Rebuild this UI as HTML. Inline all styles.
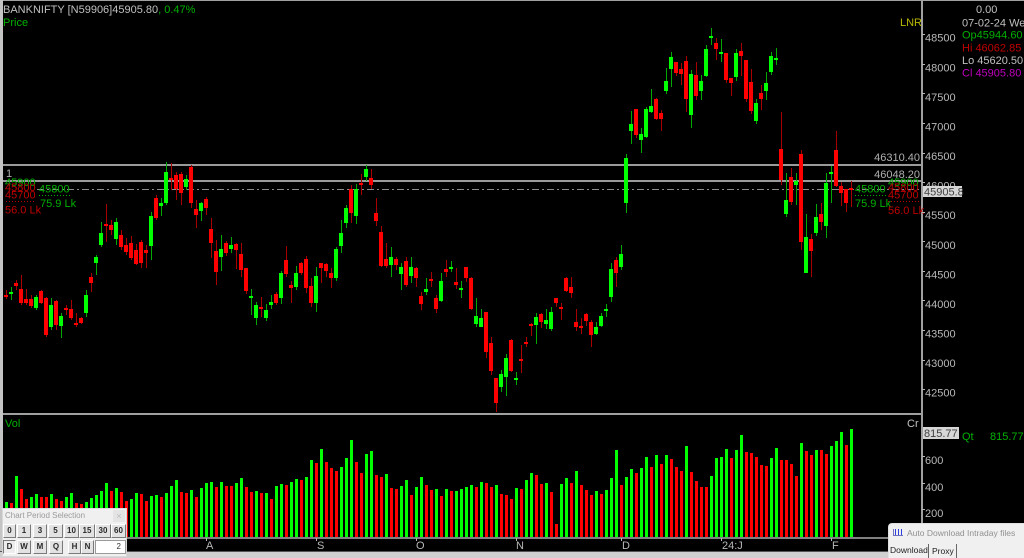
<!DOCTYPE html>
<html><head><meta charset="utf-8">
<style>
html,body{margin:0;padding:0;background:#000;width:1024px;height:558px;overflow:hidden;}
#w{position:relative;width:1024px;height:558px;overflow:hidden;}
svg{position:absolute;left:0;top:0;}
text{font-family:"Liberation Sans",sans-serif;}
.btn{position:absolute;height:14px;background:#e2e2e2;border-top:1px solid #fff;border-left:1px solid #fff;border-right:1px solid #7a7a7a;border-bottom:1px solid #7a7a7a;font:bold 8px "Liberation Sans",sans-serif;color:#2a2a2a;text-align:center;line-height:12px;box-sizing:border-box;}
.dn{border-top:1px solid #7a7a7a;border-left:1px solid #7a7a7a;border-right:1px solid #fff;border-bottom:1px solid #fff;background:#ececec;}
</style></head>
<body><div id="w">
<svg id="s" width="1024" height="558" xmlns="http://www.w3.org/2000/svg">
<rect width="1024" height="558" fill="#000"/>
<g shape-rendering="crispEdges">
<rect x="0" y="0" width="1024" height="1" fill="#a0a0a0"/>
<rect x="0" y="0" width="3" height="558" fill="#c4c4c4"/>
<rect x="921" y="0" width="2" height="552" fill="#a0a0a0"/>
<rect x="3" y="164" width="918" height="2" fill="#9a9a9a"/>
<rect x="3" y="180" width="918" height="2" fill="#9a9a9a"/>
<rect x="3" y="413" width="918" height="2" fill="#a0a0a0"/>
</g>
<line x1="37" y1="189.5" x2="921" y2="189.5" stroke="#8c8c8c" stroke-width="1" stroke-dasharray="7 3 2 3" shape-rendering="crispEdges"/>
<g id="cg" shape-rendering="crispEdges"></g>
<g id="vg" shape-rendering="crispEdges"></g>
<rect x="3" y="537" width="918" height="2" fill="#808080" shape-rendering="crispEdges"/>
<rect x="0" y="551" width="1024" height="1" fill="#555" shape-rendering="crispEdges"/>
<rect x="0" y="552" width="1024" height="6" fill="#cfcfcf" shape-rendering="crispEdges"/>

<!-- header -->
<text x="3" y="13" font-size="11" fill="#c0c0c0">BANKNIFTY [N59906]45905.80<tspan fill="#00b000">,  0.47%</tspan></text>
<text x="3" y="26" font-size="11" fill="#00b000">Price</text>
<text x="900" y="26" font-size="11" fill="#b8b800">LNR</text>

<!-- horizontal line labels -->
<text x="920" y="161" font-size="11" fill="#b0b0b0" text-anchor="end">46310.40</text>
<text x="920" y="178" font-size="11" fill="#b0b0b0" text-anchor="end">46048.20</text>
<text x="6" y="177" font-size="11" fill="#b0b0b0">1</text>

<!-- left profile labels -->
<text x="5" y="186" font-size="11" fill="#00b000">45900</text>
<text x="5" y="191" font-size="11" fill="#c00000">45800</text>
<text x="5" y="198.5" font-size="11" fill="#c00000">45700</text>
<line x1="6" y1="201.5" x2="36" y2="201.5" stroke="#c00000" stroke-dasharray="1 2"/>
<text x="5" y="213.5" font-size="11" fill="#c00000">56.0 Lk</text>
<text x="39" y="192.5" font-size="11" fill="#00b000">45800</text>
<line x1="39" y1="195.5" x2="72" y2="195.5" stroke="#00b000" stroke-dasharray="1 2"/>
<text x="40" y="207" font-size="11" fill="#00b000">75.9 Lk</text>

<!-- right profile labels -->
<text x="855" y="192.5" font-size="11" fill="#00b000">45800</text>
<line x1="855" y1="195.5" x2="888" y2="195.5" stroke="#00b000" stroke-dasharray="1 2"/>
<text x="855" y="207" font-size="11" fill="#00b000">75.9 Lk</text>
<text x="888" y="186" font-size="11" fill="#00b000">45900</text>
<text x="888" y="191" font-size="11" fill="#c00000">45800</text>
<text x="888" y="198.5" font-size="11" fill="#c00000">45700</text>
<line x1="888" y1="201.5" x2="920" y2="201.5" stroke="#c00000" stroke-dasharray="1 2"/>
<text x="888" y="214" font-size="11" fill="#c00000">56.0 Lk</text>

<!-- y axis -->
<g id="yax" font-size="11" fill="#b8b8b8"></g>
<rect x="923" y="186" width="39" height="11" fill="#d6d6d6"/>
<text x="924" y="195.5" font-size="11" fill="#404040">45905.8</text>

<!-- right info -->
<text x="976" y="13" font-size="11" fill="#c0c0c0">0.00</text>
<text x="962" y="26.5" font-size="11" fill="#c0c0c0">07-02-24 Wed</text>
<text x="962" y="38.5" font-size="11" fill="#00b000">Op45944.60</text>
<text x="962" y="51.5" font-size="11" fill="#c00000">Hi  46062.85</text>
<text x="962" y="64" font-size="11" fill="#c0c0c0">Lo  45620.50</text>
<text x="962" y="76.5" font-size="11" fill="#c000c0">Cl  45905.80</text>

<!-- volume panel labels -->
<text x="5" y="427" font-size="11" fill="#00b000">Vol</text>
<text x="907" y="427" font-size="11" fill="#c0c0c0">Cr</text>
<rect x="923" y="427" width="36" height="12" fill="#d6d6d6"/>
<text x="924" y="437" font-size="11" fill="#404040">815.77</text>
<text x="962" y="440" font-size="11" fill="#00b000">Qt</text>
<text x="990" y="440" font-size="11" fill="#00b000">815.77</text>
<g shape-rendering="crispEdges" fill="#b8b8b8">
<rect x="922" y="456" width="3" height="1"/><rect x="922" y="483" width="3" height="1"/><rect x="922" y="509" width="3" height="1"/>
</g>
<text x="925" y="464" font-size="11" fill="#b8b8b8">600</text>
<text x="925" y="491" font-size="11" fill="#b8b8b8">400</text>
<text x="925" y="517" font-size="11" fill="#b8b8b8">200</text>

<!-- x axis -->
<g font-size="11" fill="#b8b8b8">
<text x="206" y="549">A</text>
<text x="317" y="549">S</text>
<text x="416" y="549">O</text>
<text x="516" y="549">N</text>
<text x="622" y="549">D</text>
<text x="722" y="549">24:J</text>
<text x="832" y="549">F</text>
</g>
<g shape-rendering="crispEdges" fill="#b8b8b8">
<rect x="206" y="538" width="1" height="3"/><rect x="316" y="538" width="1" height="3"/><rect x="416" y="538" width="1" height="3"/><rect x="516" y="538" width="1" height="3"/><rect x="621" y="538" width="1" height="3"/><rect x="721" y="538" width="1" height="3"/><rect x="831" y="538" width="1" height="3"/>
</g>
</svg>

<!-- Chart Period Selection panel -->
<div style="position:absolute;left:2px;top:508px;width:125px;height:49px;background:#f0f0f0;border:1px solid #d8d8d8;box-sizing:border-box;"></div>
<div style="position:absolute;left:5px;top:511px;font:8px 'Liberation Sans',sans-serif;color:#9a9a9a;">Chart Period Selection</div>
<div style="position:absolute;left:113px;top:510px;width:12px;height:12px;background:#e4e4e4;font:9px 'Liberation Sans',sans-serif;color:#bbb;text-align:center;line-height:12px;">×</div>
<div class="btn" style="left:3px;top:524px;width:13px;">0</div>
<div class="btn" style="left:17px;top:524px;width:14px;">1</div>
<div class="btn" style="left:33px;top:524px;width:14px;">3</div>
<div class="btn" style="left:48px;top:524px;width:15px;">5</div>
<div class="btn" style="left:64px;top:524px;width:15px;">10</div>
<div class="btn" style="left:79px;top:524px;width:16px;">15</div>
<div class="btn" style="left:95px;top:524px;width:16px;">30</div>
<div class="btn" style="left:111px;top:524px;width:15px;">60</div>
<div class="btn dn" style="left:3px;top:540px;width:13px;">D</div>
<div class="btn" style="left:17px;top:540px;width:14px;">W</div>
<div class="btn" style="left:33px;top:540px;width:14px;">M</div>
<div class="btn" style="left:49px;top:540px;width:14px;">Q</div>
<div class="btn" style="left:68px;top:540px;width:13px;">H</div>
<div class="btn" style="left:81px;top:540px;width:13px;">N</div>
<div style="position:absolute;left:95px;top:540px;width:31px;height:14px;background:#fff;border:1px solid #9a9a9a;box-sizing:border-box;font:8px 'Liberation Sans',sans-serif;color:#333;text-align:right;padding-right:4px;line-height:12px;">2</div>

<!-- Auto Download panel -->
<div style="position:absolute;left:888px;top:523px;width:136px;height:35px;background:#f0f0f0;border-top-left-radius:4px;border-top:1px solid #e0e0e0;border-left:1px solid #e0e0e0;box-sizing:border-box;"></div>
<div style="position:absolute;left:893px;top:529px;width:10px;height:7px;border-bottom:1px solid #7070c0;border-left:1px solid #7070c0;box-sizing:border-box;"></div>
<div style="position:absolute;left:895px;top:529px;width:1px;height:6px;background:#3040e0;"></div>
<div style="position:absolute;left:898px;top:529px;width:1px;height:6px;background:#3040e0;"></div>
<div style="position:absolute;left:901px;top:529px;width:1px;height:6px;background:#3040e0;"></div>
<div style="position:absolute;left:907px;top:528px;font:8.5px 'Liberation Sans',sans-serif;color:#909090;white-space:nowrap;">Auto Download Intraday files</div>
<div style="position:absolute;left:890px;top:545px;font:8.5px 'Liberation Sans',sans-serif;color:#222;white-space:nowrap;">Download</div>
<div style="position:absolute;left:928px;top:544px;width:1px;height:14px;background:#666;"></div>
<div style="position:absolute;left:932px;top:546px;font:8.5px 'Liberation Sans',sans-serif;color:#222;white-space:nowrap;">Proxy</div>
<div style="position:absolute;left:956px;top:544px;width:1px;height:14px;background:#666;"></div>
</div>

<script>
const C=[
[295,297,290,299,'r'],[292,294,287,300,'g'],[283,286,280,290,'r'],[289,303,275,305,'r'],[299,303,289,305,'r'],
[299,306,295,308,'r'],[297,308,295,310,'g'],[291,303,290,304,'r'],[298,335,297,337,'r'],[305,327,298,330,'g'],
[301,325,300,330,'r'],[316,326,313,338,'g'],[308,310,305,315,'r'],[309,318,300,320,'r'],[323,325,313,327,'r'],
[318,323,317,324,'r'],[295,313,290,317,'g'],[277,283,273,292,'r'],[257,263,255,275,'g'],[233,245,222,247,'g'],
[224,226,204,242,'r'],[225,230,220,235,'r'],[222,239,218,245,'g'],[235,247,230,250,'r'],[245,252,238,255,'r'],
[243,258,236,260,'r'],[250,264,244,265,'r'],[242,263,240,268,'r'],[250,253,245,268,'r'],[216,246,212,260,'g'],
[198,218,195,220,'r'],[203,206,198,216,'g'],[172,203,162,205,'g'],[178,180,163,190,'r'],[175,189,172,200,'r'],
[174,193,172,205,'r'],[179,187,175,190,'g'],[167,203,165,208,'r'],[209,215,200,228,'r'],[203,211,202,221,'g'],
[199,208,197,215,'r'],[229,243,218,258,'r'],[251,272,240,285,'r'],[249,257,235,271,'g'],[243,253,241,256,'r'],
[245,249,237,253,'g'],[244,250,243,269,'r'],[254,270,243,277,'r'],[268,291,268,294,'r'],[296,298,289,315,'g'],
[305,318,302,325,'g'],[307,309,297,317,'r'],[310,318,304,321,'g'],[302,305,295,309,'g'],[294,303,292,305,'r'],
[273,298,271,304,'g'],[260,274,246,277,'r'],[285,288,281,303,'r'],[273,287,266,290,'g'],[263,273,262,275,'r'],
[259,288,256,293,'r'],[286,303,278,307,'r'],[276,303,267,312,'g'],[263,268,263,283,'r'],[264,271,263,277,'r'],
[273,278,268,288,'r'],[249,278,247,281,'g'],[233,246,220,253,'g'],[208,223,205,228,'g'],[189,213,185,223,'r'],
[189,216,184,224,'g'],[183,185,174,195,'r'],[169,177,165,181,'g'],[178,185,169,189,'r'],[213,221,198,226,'r'],
[232,266,226,267,'r'],[259,266,243,268,'r'],[257,265,247,277,'g'],[259,265,257,270,'r'],[267,274,263,290,'g'],
[261,285,257,287,'r'],[267,276,257,283,'g'],[268,278,267,287,'r'],[296,304,292,310,'r'],[289,292,278,295,'g'],
[279,281,272,287,'r'],[298,309,295,313,'r'],[281,301,273,302,'g'],[269,272,260,277,'r'],[267,269,261,272,'g'],
[282,285,268,289,'r'],[288,290,281,298,'g'],[267,278,267,282,'r'],[278,309,277,310,'r'],[316,324,298,327,'g'],
[318,327,309,327,'g'],[312,352,312,358,'r'],[343,371,337,375,'r'],[378,403,378,412,'r'],[374,387,370,392,'g'],
[358,377,354,396,'g'],[340,371,339,372,'r'],[378,380,372,385,'g'],[359,361,345,373,'r'],[342,344,337,347,'r'],
[324,326,323,336,'r'],[317,325,313,344,'g'],[314,322,313,328,'r'],[320,324,309,329,'g'],[312,329,307,331,'g'],
[298,303,298,307,'r'],[307,309,303,320,'r'],[278,291,277,292,'r'],[287,293,277,298,'r'],[322,327,309,331,'r'],
[326,328,318,334,'r'],[314,321,313,326,'r'],[322,335,320,347,'r'],[327,334,322,335,'g'],[316,326,313,327,'g'],
[309,311,304,317,'g'],[269,297,263,302,'g'],[260,273,257,287,'r'],[254,267,245,270,'g'],[158,203,154,213,'g'],
[124,131,111,144,'g'],[109,135,109,138,'r'],[134,140,128,153,'g'],[109,137,107,138,'g'],[106,112,89,113,'g'],
[99,119,98,120,'r'],[113,119,110,131,'r'],[81,91,68,94,'g'],[57,69,52,87,'g'],[62,73,62,76,'r'],
[69,74,63,85,'r'],[61,99,56,112,'r'],[74,115,70,128,'g'],[75,96,62,100,'r'],[81,91,75,100,'g'],
[49,76,45,77,'g'],[36,38,28,45,'g'],[43,49,38,60,'r'],[52,54,39,62,'g'],[53,80,53,83,'r'],
[78,83,78,96,'r'],[53,77,49,81,'g'],[51,56,43,76,'r'],[60,99,60,102,'r'],[82,111,69,114,'r'],
[103,121,99,124,'g'],[93,99,85,110,'r'],[83,91,72,100,'g'],[56,72,52,75,'g'],[58,60,48,65,'g'],
[149,180,112,185,'r'],[200,214,173,217,'g'],[177,202,168,205,'r'],[181,185,173,205,'g'],[154,242,150,250,'r'],
[237,273,214,273,'g'],[239,251,234,277,'r'],[217,233,204,236,'g'],[214,222,203,230,'r'],[183,226,173,238,'g'],
[172,174,166,203,'g'],[150,186,131,187,'r'],[186,193,182,206,'r'],[189,203,189,212,'r'],[188,190,181,207,'r']
];
const N=C.length;
let h='';
C.forEach((d,i)=>{
  const c=851-5*(N-1-i);
  const col=d[4]=='g'?'#00ff00':'#ff0000';
  const wc=d[4]=='g'?'#00a800':'#a80000';
  h+='<rect x="'+c+'" y="'+d[2]+'" width="1" height="'+(d[3]-d[2])+'" fill="'+wc+'"/>';
  h+='<rect x="'+(c-2)+'" y="'+d[0]+'" width="4" height="'+Math.max(1,d[1]-d[0])+'" fill="'+col+'"/>';
});
document.getElementById('cg').innerHTML=h;

const V0=[501.7,502.7,476,489.3,499.3,496.7,494,496.7,497.3,494,499.3,500.7,497.3,493.3,502.7,504,502,498,494.7,490.7,482.7,491,488];
const VZ=[193,220,213,196,197,218,205,202,208,194,175,157,193,196,186,208,180,166,162,178,162,174,174,164,150,178,192,188,196,194,214,175,168,172,162,154,157,147,97,105,63,102,120,128,118,89,36,103,135,78,69,142,148,137,180,182,175,157,202,178,148,172,186,182,204,182,190,188,182,176,170,176,162,166,176,172,198,200,212,180,184,156,135,140,168,166,192,289,168,150,165,130,172,186,200,188,198,186,150,65,170,148,124,135,121,87,117,81,107,81,93,116,128,53,133,160,176,178,145,89,86,63,89,67,22,72,75,87,112,114,91,61,95,97,107,144,45,69,80,65,65,79,55,39,12,52,4];
const VC="grgrrggrrgrrggrrgggggrg"+"rrggrrggrg"+"ggrrgrgggr"+"grrggrrgrg"+"rggrggrggr"+"grrrgggrrg"+"grrgrrggrg"+"grrgrgrggg"+"grgrrgrrrg"+"rggrrgrrgg"+"rgrrrgrggg"+"rggrggrgrg"+"rrrgrrrrgg"+"ggrggrrrrr"+"ggrrrrgrrg"+"rrgggrg";
const tops=V0.concat(VZ.map(z=>428+z/3));
const M=tops.length;
let v='';
for(let i=0;i<M;i++){
  const c=851-5*(M-1-i);
  const t=Math.round(tops[i]);
  v+='<rect x="'+(c-1)+'" y="'+t+'" width="3" height="'+(538-t)+'" fill="'+(VC[i]=='g'?'#00ff00':'#ff0000')+'"/>';
}
document.getElementById('vg').innerHTML=v;

const labs=[48500,48000,47500,47000,46500,46000,45500,45000,44500,44000,43500,43000,42500];
let y='';
labs.forEach((p,n)=>{
  const cy=37.7+29.58*n;
  y+='<rect x="922" y="'+Math.round(cy-3.5)+'" width="3" height="1" shape-rendering="crispEdges"/>';
  y+='<text x="925" y="'+(cy+4).toFixed(1)+'">'+p+'</text>';
});
document.getElementById('yax').innerHTML=y;
</script>
</body></html>
